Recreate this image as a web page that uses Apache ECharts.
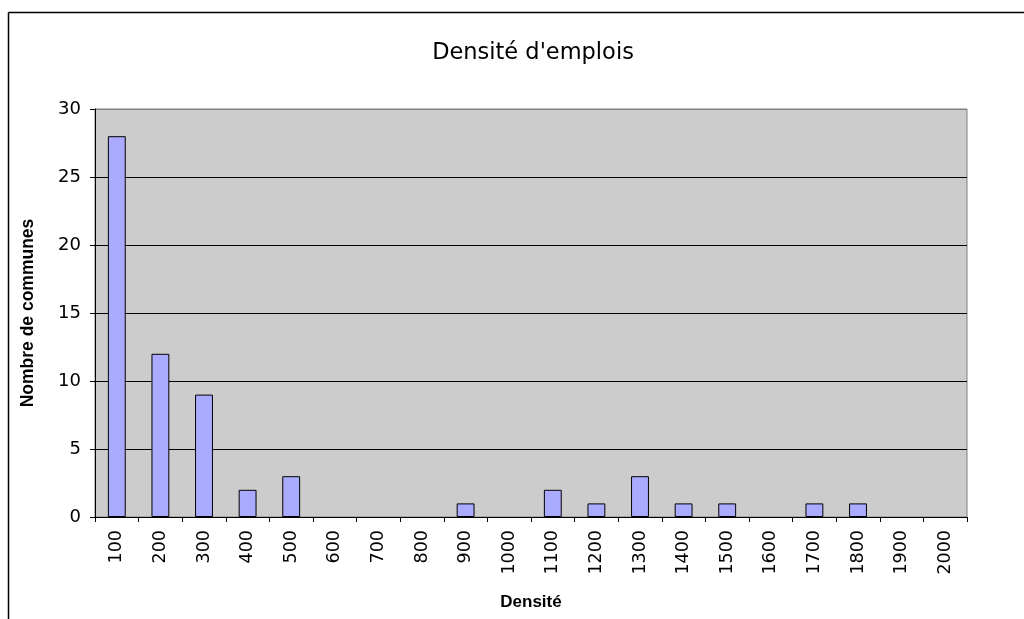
<!DOCTYPE html>
<html>
<head>
<meta charset="utf-8">
<script src="https://cdn.jsdelivr.net/npm/echarts@6/dist/echarts.min.js"></script>
<style>html,body{margin:0;padding:0;background:#fff}#c{width:1024px;height:619px}</style>
</head>
<body>
<div id="c"></div>
<script>
var categories = ['100','200','300','400','500','600','700','800','900','1000','1100','1200','1300','1400','1500','1600','1700','1800','1900','2000'];
var counts = [28,12,9,2,3,0,0,0,1,0,2,1,3,1,1,0,1,1,0,0];
var yTicks = [0,5,10,15,20,25,30];

var chart = echarts.init(document.getElementById('c'));
chart.setOption({
  animation: false,
  backgroundColor: '#ffffff',
  title: {
    text: "Densité d'emplois",
    left: 528, top: 37, textAlign: 'center',
    textStyle: {fontFamily: 'DejaVu Sans', fontSize: 22.5, fontWeight: 'normal', color: '#000'}
  },
  graphic: [
    {type: 'line', shape: {x1: 8.5, y1: 12.5, x2: 1024, y2: 12.5}, style: {stroke: '#000', lineWidth: 1.5}},
    {type: 'line', shape: {x1: 8.5, y1: 12.5, x2: 8.5, y2: 619}, style: {stroke: '#000', lineWidth: 1.5}}
  ],
  grid: {left: 95, right: 57, top: 109, bottom: 102, show: true, outerBoundsMode: 'none', containLabel: false,
    backgroundColor: '#cccccc', borderColor: '#808080', borderWidth: 1},
  xAxis: {
    type: 'category',
    data: categories,
    boundaryGap: true,
    name: 'Densité',
    nameLocation: 'middle',
    nameGap: 77,
    nameTextStyle: {fontFamily: 'Liberation Sans', fontWeight: 'bold', fontSize: 17, color: '#000'},
    axisLine: {lineStyle: {color: '#000', width: 1}},
    axisTick: {show: true, interval: 0, length: 5, lineStyle: {color: '#000'}},
    axisLabel: {interval: 0, rotate: 90, fontFamily: 'DejaVu Sans', fontSize: 17.5, color: '#000', margin: 13}
  },
  yAxis: {
    type: 'value',
    min: 0, max: 30, interval: 5,
    name: 'Nombre de communes',
    nameLocation: 'middle',
    nameGap: 58,
    nameTextStyle: {fontFamily: 'Liberation Sans', fontWeight: 'bold', fontSize: 17.5, color: '#000'},
    axisLine: {show: true, lineStyle: {color: '#000', width: 1}},
    axisTick: {show: true, length: 5, lineStyle: {color: '#000'}},
    axisLabel: {fontFamily: 'DejaVu Sans', fontSize: 18, color: '#000', margin: 14,
      formatter: function (v) { return yTicks.indexOf(v) >= 0 ? String(v) : ''; }},
    splitLine: {show: true, lineStyle: {color: ['#000','#000','#000','#000','#000','#000','#808080'], width: 1}}
  },
  series: [{
    type: 'bar',
    data: counts.map(function (v) { return v === 0 ? '-' : v; }),
    barWidth: '41%',
    itemStyle: {color: '#aaaaff', borderColor: '#000', borderWidth: 1}
  }]
});
</script>
</body>
</html>
